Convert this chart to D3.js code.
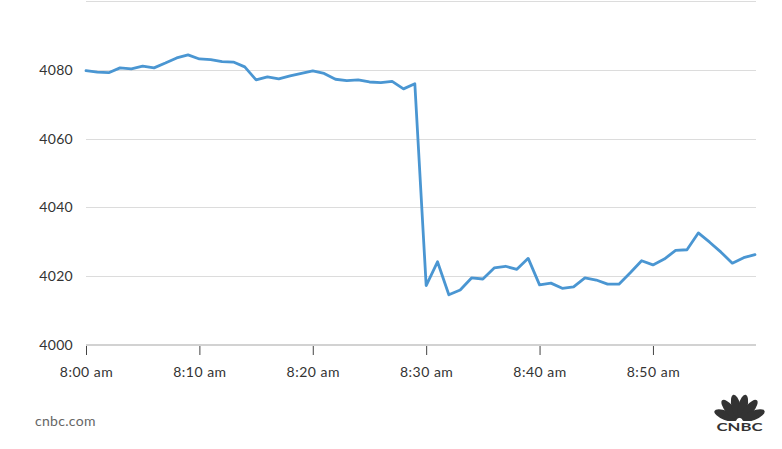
<!DOCTYPE html>
<html>
<head>
<meta charset="utf-8">
<script src="https://cdn.jsdelivr.net/npm/d3@7"></script>
<style>
  html, body { margin: 0; padding: 0; background: #fff; }
  svg { display: block; }
  text { font-family: Lato, "Open Sans", sans-serif; }
</style>
</head>
<body>
<svg id="chart" width="782" height="449"></svg>
<script>
// ---- Data ----
const times = [
  "8:00","8:01","8:02","8:03","8:04","8:05","8:06","8:07","8:08","8:09",
  "8:10","8:11","8:12","8:13","8:14","8:15","8:16","8:17","8:18","8:19",
  "8:20","8:21","8:22","8:23","8:24","8:25","8:26","8:27","8:28","8:29",
  "8:30","8:31","8:32","8:33","8:34","8:35","8:36","8:37","8:38","8:39",
  "8:40","8:41","8:42","8:43","8:44","8:45","8:46","8:47","8:48","8:49",
  "8:50","8:51","8:52","8:53","8:54","8:55","8:56","8:57","8:58","8:59"
];
const values = [
  4079.8, 4079.4, 4079.2, 4080.6, 4080.3, 4081.1, 4080.6, 4082.0, 4083.5, 4084.4,
  4083.2, 4083.0, 4082.4, 4082.3, 4080.9, 4077.1, 4078.0, 4077.4, 4078.3, 4079.0,
  4079.7, 4079.0, 4077.3, 4076.9, 4077.1, 4076.5, 4076.3, 4076.7, 4074.5, 4076.0,
  4017.3, 4024.2, 4014.6, 4016.0, 4019.5, 4019.2, 4022.4, 4022.9, 4022.0, 4025.2,
  4017.5, 4018.0, 4016.5, 4016.9, 4019.5, 4018.9, 4017.7, 4017.7, 4021.0, 4024.5,
  4023.3, 4025.0, 4027.5, 4027.7, 4032.6, 4029.9, 4027.0, 4023.8, 4025.4, 4026.3
];
const yTicks = [4000, 4020, 4040, 4060, 4080, 4100];
const xTickTimes = ["8:00","8:10","8:20","8:30","8:40","8:50"];
const xTickLabels = ["8:00 am","8:10 am","8:20 am","8:30 am","8:40 am","8:50 am"];
const sourceLabel = "cnbc.com";

// ---- Layout ----
const svg = d3.select("#chart");
const parse = d3.timeParse("%H:%M");
const data = times.map((t, i) => ({ t: parse(t), v: values[i] }));

const x = d3.scaleTime()
  .domain([parse("8:00"), parse("8:59")])
  .range([86, 755]);
const y = d3.scaleLinear()
  .domain([4000, 4100])
  .range([345, 1.2]);

// gridlines
svg.append("g")
  .selectAll("line")
  .data(yTicks.filter(d => d !== 4000))
  .join("line")
  .attr("x1", 86).attr("x2", 756)
  .attr("y1", d => Math.round(y(d)) + 0.5)
  .attr("y2", d => Math.round(y(d)) + 0.5)
  .attr("stroke", "#dcdcdc")
  .attr("stroke-width", 1);

// y labels
svg.append("g")
  .selectAll("text")
  .data(yTicks.filter(d => d !== 4100))
  .join("text")
  .attr("x", 73)
  .attr("y", d => y(d))
  .attr("dy", "0.35em")
  .attr("text-anchor", "end")
  .attr("font-size", 14)
  .attr("letter-spacing", 0.3)
  .attr("fill", "#333")
  .text(d => d);

// x axis
const xAxis = d3.axisBottom(x)
  .tickValues(xTickTimes.map(parse))
  .tickFormat((d, i) => xTickLabels[i])
  .tickSize(10)
  .tickPadding(12);
const gx = svg.append("g")
  .attr("transform", "translate(0,345)")
  .call(xAxis);
gx.select(".domain").remove();
gx.selectAll(".tick line").attr("stroke", "#444").attr("stroke-width", 1);
gx.selectAll(".tick text")
  .attr("font-size", 14)
  .attr("letter-spacing", 0.5)
  .attr("font-family", "Lato, 'Open Sans', sans-serif")
  .attr("fill", "#333");
svg.append("line")
  .attr("x1", 86).attr("x2", 756)
  .attr("y1", 345).attr("y2", 345)
  .attr("stroke", "#d2d2d2")
  .attr("stroke-width", 2);

// line
const line = d3.line()
  .x(d => x(d.t))
  .y(d => y(d.v));
svg.append("path")
  .datum(data)
  .attr("d", line)
  .attr("fill", "none")
  .attr("stroke", "#4a96d2")
  .attr("stroke-width", 2.8)
  .attr("stroke-linejoin", "round")
  .attr("stroke-linecap", "round");

// source label
svg.append("text")
  .attr("x", 35)
  .attr("y", 421)
  .attr("dy", "0.35em")
  .attr("font-size", 14)
  .attr("letter-spacing", 0.3)
  .attr("fill", "#666")
  .text(sourceLabel);

// CNBC peacock logo
const logo = svg.append("g").attr("transform", "translate(739.5,421)");
const angles = [-68, -40, -13, 13, 40, 68];
angles.forEach(a => {
  logo.append("ellipse")
    .attr("cx", 0).attr("cy", -15)
    .attr("rx", 4.6).attr("ry", 12)
    .attr("transform", `rotate(${a})`)
    .attr("fill", "#333");
});
logo.append("rect").attr("x", -24).attr("y", 0).attr("width", 48).attr("height", 12).attr("fill", "#fff");
logo.append("text")
  .attr("x", 0).attr("y", 9.5)
  .attr("text-anchor", "middle")
  .attr("font-family", "'Liberation Sans', Arial, sans-serif")
  .attr("font-weight", "bold")
  .attr("font-size", 11)
  .attr("textLength", 46)
  .attr("lengthAdjust", "spacingAndGlyphs")
  .attr("fill", "#333")
  .text("CNBC");
</script>
</body>
</html>
